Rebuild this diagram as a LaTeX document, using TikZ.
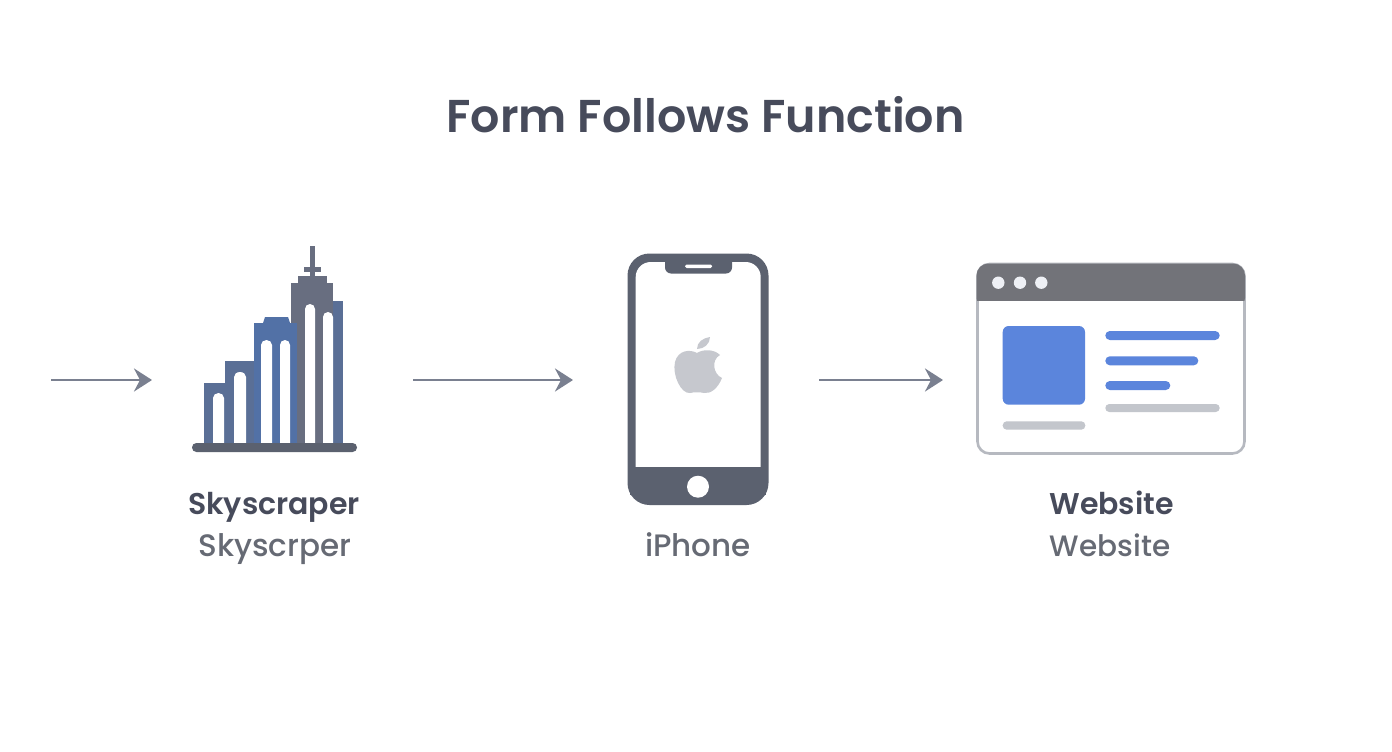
\documentclass[tikz,border=0pt]{standalone}
\usepackage{fontspec}
\setmainfont{Poppins Medium}[BoldFont={Poppins SemiBold}]
\usepackage{xcolor}
\usetikzlibrary{arrows.meta,calc}
\definecolor{inkdark}{HTML}{474B5B}
\definecolor{inkmid}{HTML}{666A74}
\definecolor{arrowgrey}{HTML}{7A8090}
\definecolor{towerblue}{HTML}{5271A6}
\definecolor{towerslate}{HTML}{5A6F96}
\definecolor{towergrey}{HTML}{686E80}
\definecolor{phonegrey}{HTML}{5B616F}
\definecolor{applegrey}{HTML}{C6C8CE}
\definecolor{barblue}{HTML}{5B85DC}
\definecolor{bargrey}{HTML}{C3C6CC}
\definecolor{framegrey}{HTML}{B6B9C0}
\definecolor{headgrey}{HTML}{727379}
\definecolor{dotwhite}{HTML}{EEF0F5}
\tikzset{
  flowarrow/.style={arrowgrey, line width=2.8, -{Stealth[length=18,width=23,inset=6]}},
  maintitle/.style={font=\bfseries\fontsize{46}{50}\selectfont, text=inkdark, inner sep=0, anchor=base},
  boldlabel/.style={font=\bfseries\fontsize{30}{34}\selectfont, text=inkdark, inner sep=0, anchor=base},
  lightlabel/.style={font=\fontsize{31}{34}\selectfont, text=inkmid, inner sep=0, anchor=base}
}
\begin{document}
\begin{tikzpicture}[x=1pt,y=-1pt]
    \useasboundingbox (0,0) rectangle (1392,752);
    \fill[white] (0,0) rectangle (1392,752);

    % Title
    \node[maintitle] (title) at (705.5,132) {Form Follows Function};

    % Arrows
    \coordinate (arrowAin) at (51,380);
    \coordinate (arrowAout) at (152,380);
    \coordinate (arrowBin) at (413,380);
    \coordinate (arrowBout) at (573,380);
    \coordinate (arrowCin) at (819,380);
    \coordinate (arrowCout) at (943,380);
    \draw[flowarrow] (arrowAin) -- (arrowAout);
    \draw[flowarrow] (arrowBin) -- (arrowBout);
    \draw[flowarrow] (arrowCin) -- (arrowCout);

    % Skyscraper
    \fill[towergrey] (310,246) rectangle (315,276);
    \fill[towergrey] (304,267) rectangle (321,272);
    \fill[towergrey] (298,276) rectangle (327,283);
    \fill[towerslate] (204,383) rectangle (225,445);
    \fill[towerslate] (225,361) rectangle (254,445);
    \fill[towerblue] (263,323) -- (265,317) -- (288,317) -- (290,323) -- cycle;
    \fill[towergrey] (291,283) rectangle (333,445);
    \fill[towerslate] (333,301) rectangle (343,445);
    \fill[towerblue] (254,323) rectangle (297,445);
    \foreach \xl/\xr/\yt in {213/224/393, 234/246/372, 261/272/340, 280/290/340, 305/315/304, 323/333/312}{
      \fill[white] (\xl,443) -- (\xl,\yt+5) arc[start angle=180, end angle=0, x radius={(\xr-\xl)/2}, y radius=-5] -- (\xr,443) -- cycle;
    }
    \fill[phonegrey, rounded corners=4.4] (192,443) rectangle (357,452);

    \node[boldlabel] (skyA) at (274,514) {Skyscraper};
    \node[lightlabel] (skyB) at (275,556) {Skyscrper};

    % iPhone
    \fill[phonegrey, rounded corners=22] (627.5,253.5) rectangle (768.5,505);
    \fill[white, rounded corners=15] (635.7,490) rectangle (760.7,262);
    \fill[phonegrey] (630,467.3) rectangle (766,495);
    \fill[phonegrey, rounded corners=6] (665,256) rectangle (732,273.5);
    \fill[white, rounded corners=1.5] (685,264.5) rectangle (712,268);
    \fill[white] (698,486.7) circle [radius=11];
    % apple
    \fill[applegrey] (697,353) .. controls (690,349) and (678,350) .. (675,362)
      .. controls (672,375) and (681,394) .. (690,393)
      .. controls (694,392) and (700,392) .. (704,393)
      .. controls (711,394) and (718,388) .. (722,378)
      .. controls (713,374) and (711,360) .. (720,355)
      .. controls (714,349) and (703,349) .. (697,353) -- cycle;
    \fill[applegrey] (697,349) .. controls (697,342) and (703,338) .. (710,337)
      .. controls (710,344) and (704,349) .. (697,349) -- cycle;

    \node[lightlabel] (phoneA) at (698,556) {iPhone};

    % Website
    \fill[white, draw=framegrey, line width=2.6, rounded corners=12] (977.5,264) rectangle (1244.5,453.5);
    \fill[headgrey, rounded corners=12] (976.5,310) -- (976.5,263.5) -- (1245,263.5) -- (1245,310) -- cycle;
    \fill[white] (975,300.5) rectangle (1243.2,312);
    \fill[framegrey] (976.2,300.5) rectangle (978.8,314);
    \fill[framegrey] (1243.2,300.5) rectangle (1245.8,314);
    \foreach \xd in {998.3,1020,1041.3}{
      \fill[dotwhite] (\xd,282.7) circle [radius=6.2];
    }
    \fill[barblue, rounded corners=6] (1002.7,326) rectangle (1085,404.7);
    \fill[barblue, rounded corners=4.5] (1105.3,331) rectangle (1219.7,340);
    \fill[barblue, rounded corners=4.5] (1105.3,356.3) rectangle (1198.3,365.3);
    \fill[barblue, rounded corners=4.5] (1105.3,381) rectangle (1170.3,390);
    \fill[bargrey, rounded corners=4] (1105.3,404) rectangle (1219.7,412);
    \fill[bargrey, rounded corners=4] (1002.7,421.3) rectangle (1085.3,429.7);

    \node[boldlabel] (webA) at (1111.5,514) {Website};
    \node[lightlabel, font=\fontsize{29.5}{34}\selectfont] (webB) at (1110,556) {Website};
\end{tikzpicture}
\end{document}
